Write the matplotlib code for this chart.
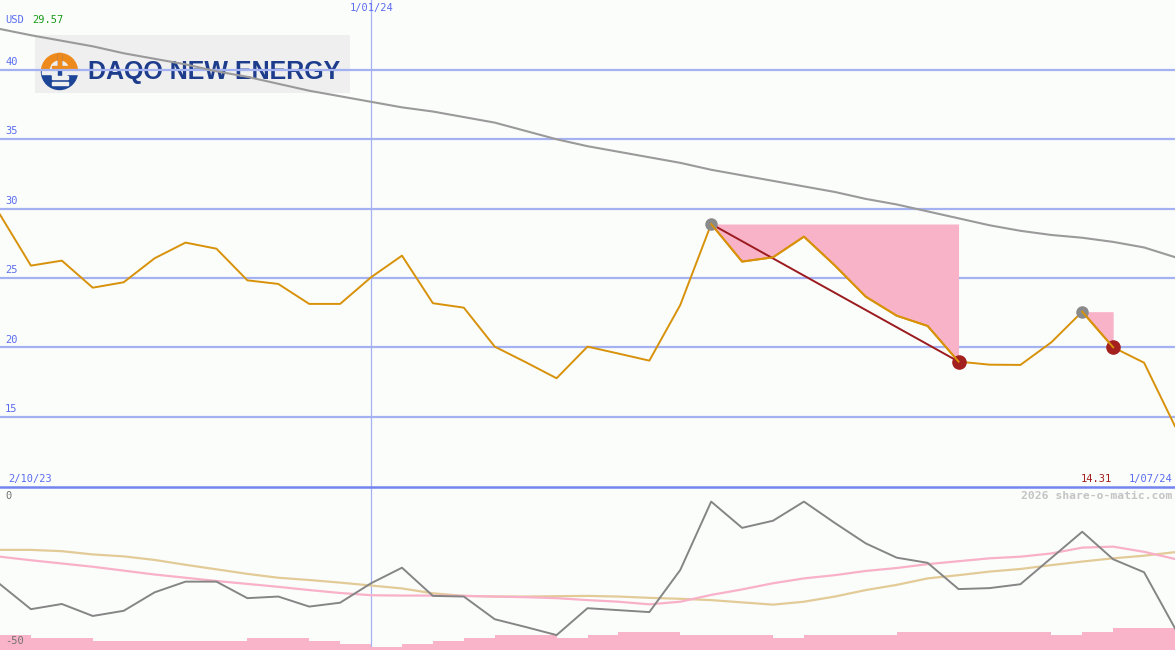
import numpy as np
import matplotlib
matplotlib.use("Agg")
import matplotlib.pyplot as plt
from matplotlib.patches import Rectangle, Wedge, Circle
from matplotlib.transforms import blended_transform_factory

# weekly closes, 2/10/23 .. 1/07/24 (USD)
price = [29.57, 25.89, 26.25, 24.30, 24.69, 26.42, 27.55, 27.11, 24.83, 24.57,
         23.13, 23.13, 25.05, 26.61, 23.18, 22.86, 20.05, 18.93, 17.77, 20.05,
         19.55, 19.04, 23.05, 28.89, 26.18, 26.49, 27.98, 25.90, 23.65, 22.28,
         21.54, 18.97, 18.75, 18.73, 20.36, 22.57, 20.00, 18.89, 14.31]
# long moving average
ma_long = [42.95, 42.5, 42.1, 41.7, 41.2, 40.8, 40.4, 39.9, 39.5, 39.0,
           38.5, 38.1, 37.7, 37.3, 37.0, 36.6, 36.2, 35.6, 35.0, 34.5,
           34.1, 33.7, 33.3, 32.8, 32.4, 32.0, 31.6, 31.2, 30.7, 30.3,
           29.8, 29.3, 28.8, 28.4, 28.1, 27.9, 27.6, 27.2, 26.5]
# lower panel indicator lines
osc = [-29.7, -37.4, -35.8, -39.5, -37.9, -32.2, -28.9, -28.9, -34.0, -33.5,
       -36.6, -35.4, -29.4, -24.6, -33.3, -33.5, -40.5, -42.9, -45.4, -37.1,
       -37.7, -38.3, -25.3, -4.2, -12.3, -10.1, -4.2, -10.8, -17.1, -21.5,
       -23.1, -31.2, -30.9, -29.7, -21.6, -13.5, -22.0, -26.0, -43.3]
osc_fast = [-21.2, -22.3, -23.3, -24.3, -25.5, -26.7, -27.7, -28.7, -29.6, -30.5,
            -31.5, -32.4, -33.1, -33.2, -33.2, -33.3, -33.5, -33.7, -34.0, -34.6,
            -35.1, -35.9, -35.1, -33.0, -31.3, -29.4, -27.9, -26.9, -25.6, -24.7,
            -23.5, -22.6, -21.7, -21.2, -20.2, -18.4, -18.1, -19.7, -21.9]
osc_slow = [-19.1, -19.1, -19.5, -20.5, -21.1, -22.2, -23.7, -25.1, -26.5, -27.7,
            -28.4, -29.2, -30.1, -31.0, -32.5, -33.3, -33.5, -33.5, -33.4, -33.3,
            -33.5, -33.9, -34.2, -34.6, -35.3, -36.0, -35.1, -33.5, -31.5, -29.9,
            -27.9, -26.9, -25.8, -25.0, -23.8, -22.7, -21.7, -20.9, -19.8]
# volume steps (weekly)
volume = [5, 4, 4, 3, 3, 3, 3, 3, 4, 4, 3, 2, 1, 2, 3, 4, 5, 5, 4, 5,
          6, 6, 5, 5, 5, 4, 5, 5, 5, 6, 6, 6, 6, 6, 5, 6, 7, 7]

y_ticks = [15, 20, 25, 30, 35, 40]
date_first, date_mid, date_last = "2/10/23", "1/01/24", "1/07/24"
mid_idx = 12
drops = [(23, 31), (35, 36)]

W, H = 1175, 650
bg = "#fbfdfb"
blue = "#5a6cf0"
grid_c = "#a4b2f2"

fig = plt.figure(figsize=(W / 100, H / 100), dpi=100, facecolor=bg)
ax = fig.add_axes([0, 163 / H, 1, 487 / H])
ax2 = fig.add_axes([0, 0, 1, 162 / H])
x = np.arange(len(price))

for a in (ax, ax2):
    a.set_facecolor(bg)
    a.set_xlim(0, len(price) - 1)
    a.axis("off")
    a.axvline(mid_idx, color=grid_c, lw=0.9, zorder=1)

ax.set_ylim(9.93, 45.04)
ax2.set_ylim(-50, 0)

mono = "DejaVu Sans Mono"
lt = blended_transform_factory(fig.transFigure, ax.transData)
for v in y_ticks:
    ax.axhline(v, color=grid_c, lw=1.6, zorder=1)
    ax.text(5 / W, v + 0.2, str(v), transform=lt, color=blue, fontsize=7.5,
            family=mono, va="bottom", ha="left")

# logo (drawn under the lines)
inch = fig.dpi_scale_trans
ax.add_patch(Rectangle((0.35, (H - 93) / 100), 3.15, 0.58, transform=inch,
                       facecolor="#efefef", edgecolor="none", zorder=0.5))
cx, cy, r = 0.595, (H - 71.5) / 100, 0.18
ax.add_patch(Wedge((cx, cy), r, 0, 180, transform=inch, color="#ee8a1c", zorder=0.6))
ax.add_patch(Wedge((cx, cy), r, 180, 360, transform=inch, color="#1d4597", zorder=0.6))
ax.add_patch(Rectangle((cx - r, cy - 0.02), 2 * r, 0.04, transform=inch, color="#efefef", zorder=0.7))
ax.add_patch(Circle((cx, cy + 0.015), 0.09, transform=inch, color="#efefef", zorder=0.7))
ax.add_patch(Rectangle((cx - 0.012, cy - 0.13), 0.024, 0.31, transform=inch, color="#1d4597", zorder=0.8))
ax.add_patch(Rectangle((cx - 0.012, cy + 0.03), 0.024, 0.15, transform=inch, color="#ee8a1c", zorder=0.8))
for dy in (0.045, -0.06, -0.12):
    ax.add_patch(Rectangle((cx - 0.08, cy + dy - 0.012), 0.16, 0.024, transform=inch,
                           color="#ee8a1c" if dy > 0 else "#efefef", zorder=0.8))
ax.text(88 / W, 1 - 72 / H, "DAQO NEW ENERGY", transform=fig.transFigure, color="#1d3c8c",
        fontsize=18, family="Liberation Sans", weight="bold", va="center", ha="left", zorder=0.9)

# drawdown fills
for i0, i1 in drops:
    seg = slice(i0, i1 + 1)
    ax.fill_between(x[seg], price[seg], price[i0], color="#f9b3c9", lw=0, zorder=2)

ax.plot(x, ma_long, color="#9a9a9a", lw=1.5, zorder=3)
ax.plot(x, price, color="#d8920a", lw=1.4, zorder=4)

i0, i1 = drops[0]
ax.plot([i0, i1], [price[i0], price[i1]], color="#9b1b1f", lw=1.4, zorder=5)
for i0, i1 in drops:
    ax.plot(i0, price[i0], "o", color="#8a8a8a", ms=8, zorder=6)
    ax.plot(i1, price[i1], "o", color="#a3201f", ms=9.5, zorder=6)
    ax.plot(x[i0:i1 + 1], price[i0:i1 + 1], color="#d8920a", lw=1.4, zorder=7)

# lower panel
ax2.bar(x[:-1], np.array(volume) * 0.95, bottom=-50, width=1, align="edge",
        color="#f9b4c9", lw=0, zorder=1)
ax2.plot(x, osc_slow, color="#e3cb98", lw=1.6, zorder=2)
ax2.plot(x, osc_fast, color="#f8b1c9", lw=1.6, zorder=3)
ax2.plot(x, osc, color="#858585", lw=1.4, zorder=4)

# separator
fig.add_artist(plt.Line2D([0, 1], [1 - 487 / H, 1 - 487 / H], color="#7384f0", lw=1.8))

# texts
fig.text(5 / W, 1 - 20 / H, "USD", color=blue, fontsize=7.5, family=mono, va="center")
fig.text(32 / W, 1 - 20 / H, f"{price[0]:.2f}", color="#1a9a1a", fontsize=7.5, family=mono, va="center")
fig.text(372 / W, 1 - 8 / H, date_mid, color=blue, fontsize=7.5, family=mono, va="center", ha="center")
fig.text(8 / W, 1 - 479 / H, date_first, color=blue, fontsize=7.5, family=mono, va="center")
fig.text(1172 / W, 1 - 479 / H, date_last, color=blue, fontsize=7.5, family=mono, va="center", ha="right")
fig.text(1112 / W, 1 - 479 / H, f"{price[-1]:.2f}", color="#a31c1c", fontsize=7.5, family=mono,
         va="center", ha="right")
fig.text(5 / W, 1 - 496 / H, "0", color="#707070", fontsize=7.5, family=mono, va="center")
fig.text(5 / W, 1 - 641 / H, "-50", color="#707070", fontsize=7.5, family=mono, va="center")
fig.text(1172 / W, 1 - 496 / H, "2026 share-o-matic.com", color="#c4c4c4", fontsize=8.2,
         family=mono, weight="bold", va="center", ha="right")

fig.savefig("out.png", dpi=100, facecolor=bg)
